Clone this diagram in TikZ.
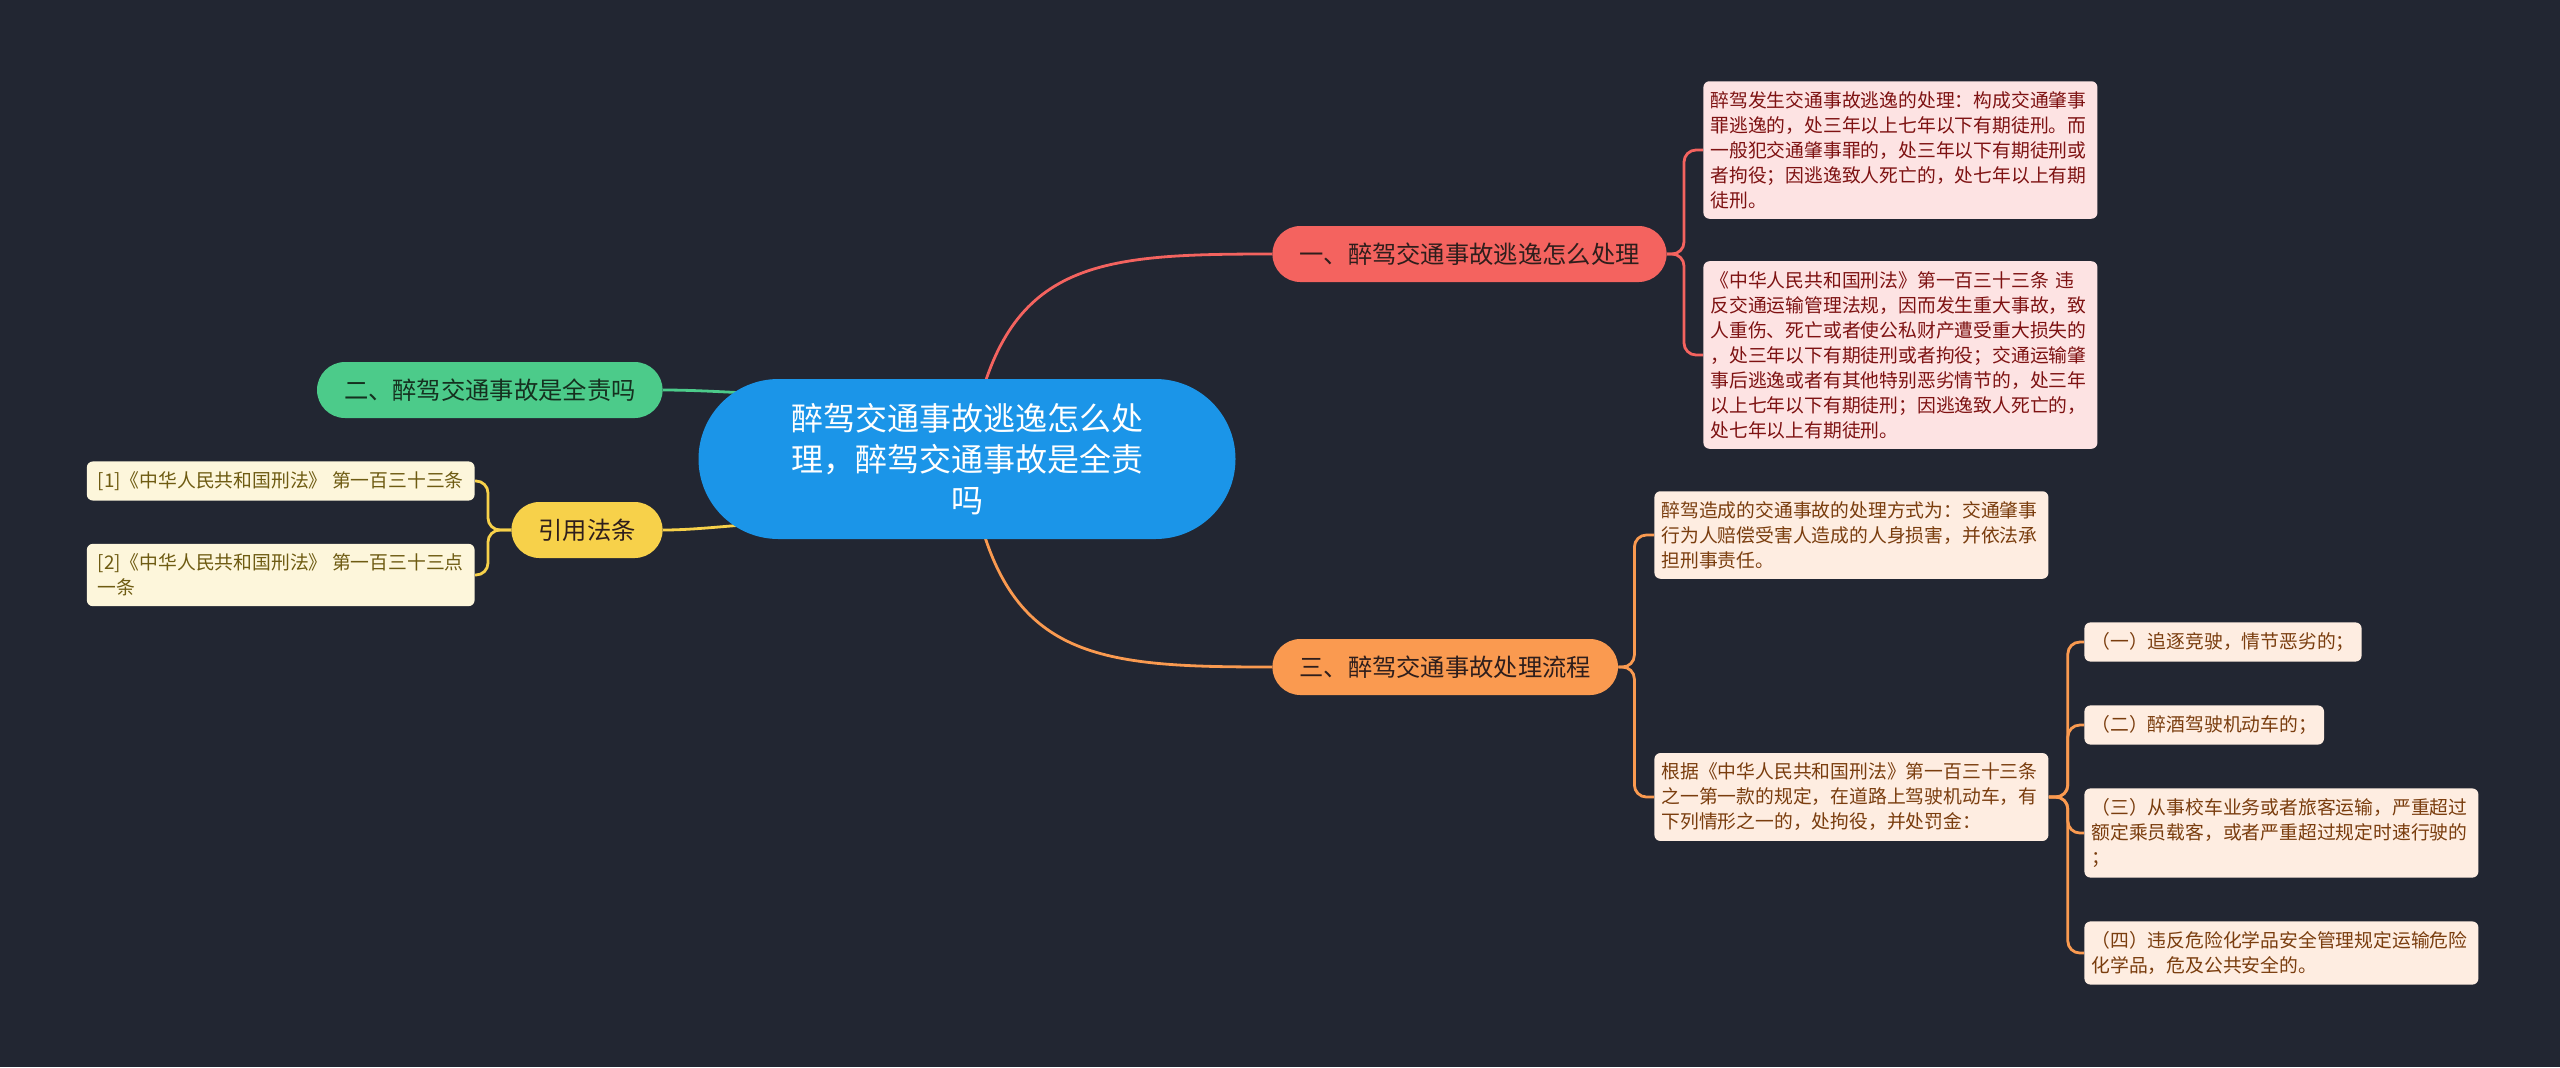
\documentclass[tikz,border=0pt]{standalone}
\usepackage{fontspec}
\newfontfamily\cjk{Noto Sans CJK SC}
\usetikzlibrary{backgrounds}
\definecolor{bgdark}{HTML}{222632}
\definecolor{rootblue}{HTML}{1B95E8}
\definecolor{redmain}{HTML}{F4635F}
\definecolor{redsoft}{HTML}{FDE3E3}
\definecolor{redtext}{HTML}{7E1212}
\definecolor{orgmain}{HTML}{FA9A50}
\definecolor{orgsoft}{HTML}{FEEDE1}
\definecolor{orgtext}{HTML}{7A3D0E}
\definecolor{grnmain}{HTML}{4CCB8A}
\definecolor{grntext}{HTML}{15301F}
\definecolor{ylwmain}{HTML}{F7D14A}
\definecolor{ylwsoft}{HTML}{FDF6DB}
\definecolor{ylwtext}{HTML}{6E5B12}
\definecolor{topictext}{HTML}{2E1E1C}
\tikzset{
    hub/.style={fill=rootblue, text=white, rounded corners=40pt, inner sep=0pt, minimum width=268.5pt, minimum height=80pt, align=center, font=\cjk\fontsize{16}{20.5}\selectfont},
    topic/.style={rounded corners=14pt, minimum height=28pt, inner xsep=13.5pt, inner ysep=0pt, text=topictext, font=\cjk\fontsize{12.15}{14}\selectfont},
    leaf/.style={rounded corners=3pt, inner xsep=3.5pt, inner ysep=5pt, align=left, font=\cjk\fontsize{9.4}{12.5}\selectfont},
    wide/.style={leaf, text width=190pt},
    redleaf/.style={wide, fill=redsoft, text=redtext},
    orgleaf/.style={leaf, fill=orgsoft, text=orgtext},
    ylwleaf/.style={leaf, inner xsep=5.5pt, fill=ylwsoft, text=ylwtext},
    link/.style={line width=1.4pt, rounded corners=6pt}
}
\begin{document}
\begin{tikzpicture}[x=0.5pt, y=-0.5pt]
    \useasboundingbox (0,0) rectangle (2560,1067);
    % centre
    \node[hub] (root) at (967,459) {醉驾交通事故逃逸怎么处\\理，醉驾交通事故是全责\\吗};
    \coordinate (rOut) at (975,420);
    \coordinate (oOut) at (975,500);
    \coordinate (gIn) at (790,395);
    \coordinate (yIn) at (790,522);
    % topics
    \node[topic, fill=redmain, anchor=west] (t1) at (1272,254) {一、醉驾交通事故逃逸怎么处理};
    \node[topic, fill=grnmain, text=grntext, anchor=east] (t2) at (663,390) {二、醉驾交通事故是全责吗};
    \node[topic, fill=orgmain, anchor=west] (t3) at (1272,667) {三、醉驾交通事故处理流程};
    \node[topic, fill=ylwmain, anchor=east] (law) at (663,530) {引用法条};
    % red leaves
    \node[redleaf, anchor=west] (r1) at (1703,150) {醉驾发生交通事故逃逸的处理：构成交通肇事\\罪逃逸的，处三年以上七年以下有期徒刑。而\\一般犯交通肇事罪的，处三年以下有期徒刑或\\者拘役；因逃逸致人死亡的，处七年以上有期\\徒刑。};
    \node[redleaf, anchor=west] (r2) at (1703,355) {《中华人民共和国刑法》第一百三十三条 违\\反交通运输管理法规，因而发生重大事故，致\\人重伤、死亡或者使公私财产遭受重大损失的\\，处三年以下有期徒刑或者拘役；交通运输肇\\事后逃逸或者有其他特别恶劣情节的，处三年\\以上七年以下有期徒刑；因逃逸致人死亡的，\\处七年以上有期徒刑。};
    % orange leaves
    \node[orgleaf, wide, anchor=west] (o1) at (1654,535) {醉驾造成的交通事故的处理方式为：交通肇事\\行为人赔偿受害人造成的人身损害，并依法承\\担刑事责任。};
    \node[orgleaf, wide, anchor=west] (o2) at (1654,797) {根据《中华人民共和国刑法》第一百三十三条\\之一第一款的规定，在道路上驾驶机动车，有\\下列情形之一的，处拘役，并处罚金：};
    \node[orgleaf, anchor=west] (s1) at (2084,642) {（一）追逐竞驶，情节恶劣的；};
    \node[orgleaf, anchor=west] (s2) at (2084,725) {（二）醉酒驾驶机动车的；};
    \node[orgleaf, wide, anchor=west] (s3) at (2084,833) {（三）从事校车业务或者旅客运输，严重超过\\额定乘员载客，或者严重超过规定时速行驶的\\；};
    \node[orgleaf, wide, anchor=west] (s4) at (2084,953) {（四）违反危险化学品安全管理规定运输危险\\化学品，危及公共安全的。};
    % cited articles
    \node[ylwleaf, anchor=east] (c1) at (475,481) {[1]《中华人民共和国刑法》 第一百三十三条};
    \node[ylwleaf, anchor=east] (c2) at (475,575) {[2]《中华人民共和国刑法》 第一百三十三点\\一条};

    \begin{pgfonlayer}{background}
        \fill[bgdark] (0,0) rectangle (2560,1067);
        \draw[link, redmain] (rOut) .. controls (1010,260) and (1100,254) .. (t1.west);
        \draw[link, orgmain] (oOut) .. controls (1010,660) and (1100,667) .. (t3.west);
        \draw[link, grnmain] (t2.east) .. controls (700,390) and (740,393) .. (gIn);
        \draw[link, ylwmain] (law.east) .. controls (700,530) and (740,524) .. (yIn);
        \draw[link, redmain] (t1.east) -- ++(17,0) |- (r1.west);
        \draw[link, redmain] (t1.east) -- ++(17,0) |- (r2.west);
        \draw[link, orgmain] (t3.east) -- ++(16,0) |- (o1.west);
        \draw[link, orgmain] (t3.east) -- ++(16,0) |- (o2.west);
        \draw[link, orgmain] (o2.east) -- ++(19,0) |- (s1.west);
        \draw[link, orgmain] (o2.east) -- ++(19,0) |- (s2.west);
        \draw[link, orgmain] (o2.east) -- ++(19,0) |- (s3.west);
        \draw[link, orgmain] (o2.east) -- ++(19,0) |- (s4.west);
        \draw[link, ylwmain] (law.west) -- ++(-23,0) |- (c1.east);
        \draw[link, ylwmain] (law.west) -- ++(-23,0) |- (c2.east);
    \end{pgfonlayer}
\end{tikzpicture}
\end{document}
